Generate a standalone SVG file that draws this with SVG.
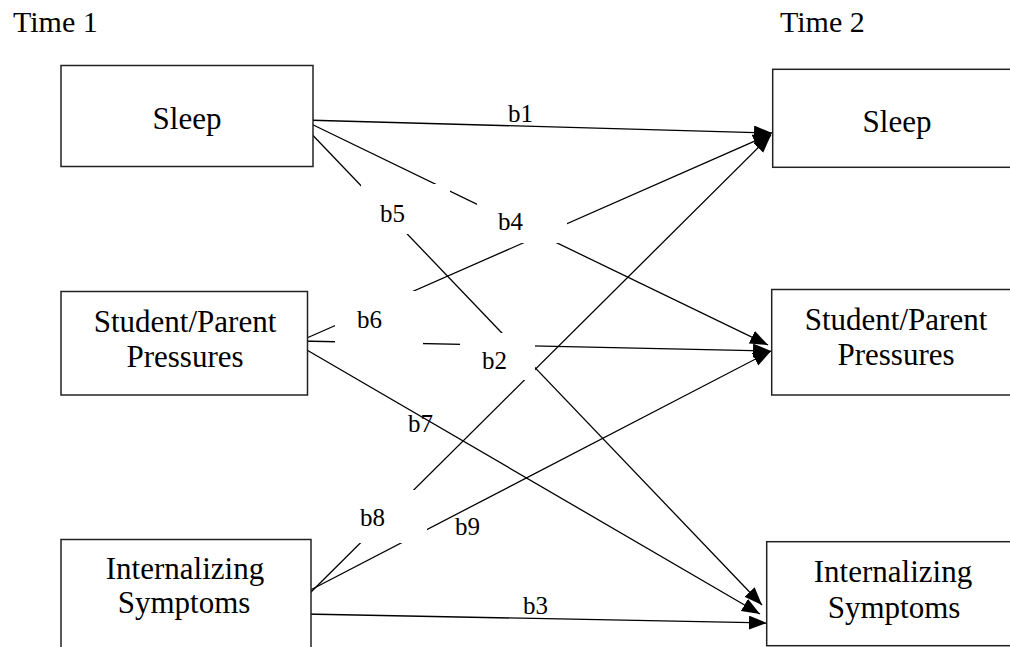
<svg xmlns="http://www.w3.org/2000/svg" width="1010" height="647" viewBox="0 0 1010 647">
<style>
.box{fill:#fff;stroke:#222;stroke-width:1.5}
.t{font-family:"Liberation Serif","Times New Roman",serif;font-size:31px;fill:#000;text-anchor:middle}
.hd{font-family:"Liberation Serif","Times New Roman",serif;font-size:30px;fill:#000}
.lb{font-family:"Liberation Serif","Times New Roman",serif;font-size:25px;fill:#000}
.ln{stroke:#000;stroke-width:1.3;fill:none;marker-end:url(#ah)}
.mask{fill:#fff;stroke:none}
</style>
<defs>
<marker id="ah" markerUnits="userSpaceOnUse" markerWidth="19" markerHeight="15" refX="18" refY="7" orient="auto">
<path d="M0,0 L18,7 L0,14 z" fill="#000"/>
</marker>
</defs>
<rect width="1010" height="647" fill="#fff"/>
<text class="hd" x="13" y="32">Time 1</text>
<text class="hd" x="780" y="32">Time 2</text>
<g id="connectors">
<line class="ln" x1="303" y1="120" x2="772" y2="133"/>
<line class="ln" x1="303" y1="120" x2="768" y2="345"/>
<line class="ln" x1="303" y1="125" x2="762" y2="605"/>
<line class="ln" x1="300" y1="341" x2="771" y2="134"/>
<line class="ln" x1="300" y1="341" x2="771" y2="351"/>
<line class="ln" x1="300" y1="346" x2="760" y2="614"/>
<line class="ln" x1="305" y1="598" x2="771" y2="135"/>
<line class="ln" x1="297" y1="597" x2="771" y2="351"/>
<line class="ln" x1="304" y1="614" x2="767" y2="623"/>
</g>
<g id="labels">
<rect class="mask" x="361" y="184" width="89" height="50"/>
<rect class="mask" x="477" y="203" width="90" height="40"/>
<rect class="mask" x="335" y="291" width="88" height="58"/>
<rect class="mask" x="460" y="333" width="75" height="47"/>
<rect class="mask" x="339" y="490" width="88" height="53"/>
<text class="lb" x="508" y="122">b1</text>
<text class="lb" x="498" y="230">b4</text>
<text class="lb" x="380" y="222">b5</text>
<text class="lb" x="357" y="328">b6</text>
<text class="lb" x="482" y="369">b2</text>
<text class="lb" x="408" y="432">b7</text>
<text class="lb" x="360" y="526">b8</text>
<text class="lb" x="455" y="535">b9</text>
<text class="lb" x="523" y="614">b3</text>
</g>
<g id="sleep1">
<rect class="box" x="61" y="65.5" width="252" height="101"/>
<text class="t" x="187" y="129">Sleep</text>
</g>
<g id="pressures1">
<rect class="box" x="61" y="291.5" width="246.5" height="103.5"/>
<text class="t" x="185" y="332">Student/Parent</text>
<text class="t" x="185" y="367">Pressures</text>
</g>
<g id="internalizing1">
<rect class="box" x="61" y="539.5" width="250" height="115"/>
<text class="t" x="185" y="579">Internalizing</text>
<text class="t" x="184" y="613">Symptoms</text>
</g>
<g id="sleep2">
<rect class="box" x="772.7" y="69.3" width="250" height="98"/>
<text class="t" x="897" y="132">Sleep</text>
</g>
<g id="pressures2">
<rect class="box" x="771.7" y="289.5" width="250" height="105.5"/>
<text class="t" x="896" y="330">Student/Parent</text>
<text class="t" x="896" y="365">Pressures</text>
</g>
<g id="internalizing2">
<rect class="box" x="766.7" y="541.7" width="260" height="104"/>
<text class="t" x="893" y="582">Internalizing</text>
<text class="t" x="894" y="618">Symptoms</text>
</g>
</svg>
